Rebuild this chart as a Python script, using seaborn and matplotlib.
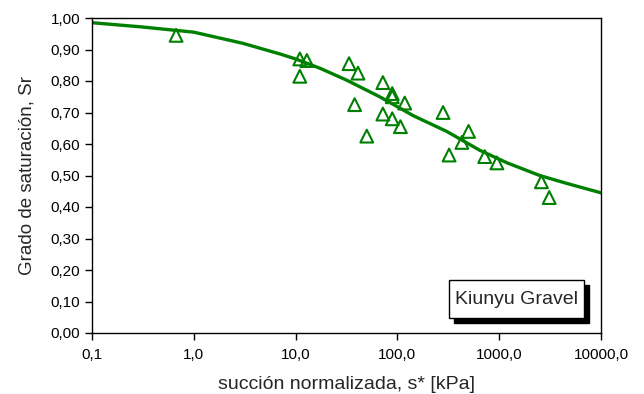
import matplotlib
matplotlib.use("Agg")
import matplotlib.pyplot as plt
import seaborn as sns
import pandas as pd
import numpy as np
from matplotlib.ticker import FixedLocator, FuncFormatter, NullLocator
from matplotlib.patches import Rectangle

# measured data points
suction_pts = [0.67, 11.0, 12.9, 11.0, 33.5, 41, 38, 50, 72, 89, 89, 72, 89, 107, 118,
               281, 322, 430, 500, 720, 950, 2600, 3100]
sr_pts = [0.945, 0.870, 0.865, 0.815, 0.855, 0.825, 0.725, 0.625, 0.795, 0.760, 0.750,
          0.695, 0.680, 0.655, 0.730, 0.700, 0.565, 0.605, 0.640, 0.560, 0.540, 0.480, 0.430]

# fitted curve
suction_fit = [0.1, 0.3, 1.0, 3.0, 7.0, 10.0, 17.5, 31.6, 67, 143, 305, 645, 1200, 2500, 4600, 10000]
sr_fit = [0.985, 0.972, 0.955, 0.920, 0.886, 0.870, 0.840, 0.803, 0.750, 0.690, 0.640,
          0.580, 0.540, 0.500, 0.475, 0.445]

x_ticks = [0.1, 1, 10, 100, 1000, 10000]
x_tick_labels = ["0,1", "1,0", "10,0", "100,0", "1000,0", "10000,0"]
y_ticks = [0.0, 0.1, 0.2, 0.3, 0.4, 0.5, 0.6, 0.7, 0.8, 0.9, 1.0]
legend_text = "Kiunyu Gravel"

sns.set_style("white")
plt.rcParams['font.family'] = ['Liberation Sans', 'DejaVu Sans']

green = "#008000"
fig = plt.figure(figsize=(6.44, 3.94), dpi=100)
ax = fig.add_axes([92/644, 1-333/394, (601-92)/644, (333-18)/394])

df_pts = pd.DataFrame({"s": suction_pts, "Sr": sr_pts})
df_fit = pd.DataFrame({"s": suction_fit, "Sr": sr_fit})

sns.lineplot(data=df_fit, x="s", y="Sr", ax=ax, color=green, linewidth=2.4, zorder=2)
sns.scatterplot(data=df_pts, x="s", y="Sr", ax=ax, marker="^", s=85,
                facecolor="none", edgecolor=green, linewidth=1.5, zorder=3)

ax.set_xscale("log")
ax.set_xlim(0.1, 10000)
ax.set_ylim(0, 1.0)
ax.xaxis.set_major_locator(FixedLocator(x_ticks))
ax.xaxis.set_minor_locator(NullLocator())
ax.set_xticklabels(x_tick_labels)
ax.set_yticks(y_ticks)
ax.yaxis.set_major_formatter(FuncFormatter(lambda v, p: f"{v:.2f}".replace(".", ",")))

for sp in ax.spines.values():
    sp.set_color("black")
    sp.set_linewidth(1.0)
ax.tick_params(axis="both", which="major", direction="out", length=5, width=1,
               color="black", labelsize=11, labelcolor="black", bottom=True, left=True)
ax.tick_params(axis="x", pad=6)

ax.set_xlabel("succión normalizada, s* [kPa]", fontsize=14, labelpad=10)
ax.set_ylabel("Grado de saturación, Sr", fontsize=13.5, labelpad=11)

# legend-like text box with shadow
bx0, by0 = (449-92)/509, (333-318)/315
bw, bh = (584-449)/509, (318-280)/315
sx, sy = 5/509, 5/315
ax.add_patch(Rectangle((bx0+sx, by0-sy), bw, bh, transform=ax.transAxes,
                       facecolor="black", edgecolor="black", zorder=4, clip_on=False))
ax.add_patch(Rectangle((bx0, by0), bw, bh, transform=ax.transAxes,
                       facecolor="white", edgecolor="black", linewidth=1.0, zorder=5, clip_on=False))
ax.text(bx0+bw/2, by0+bh/2, legend_text, transform=ax.transAxes, ha="center", va="center",
        fontsize=14, zorder=6)

fig.savefig("out.png", dpi=100)
